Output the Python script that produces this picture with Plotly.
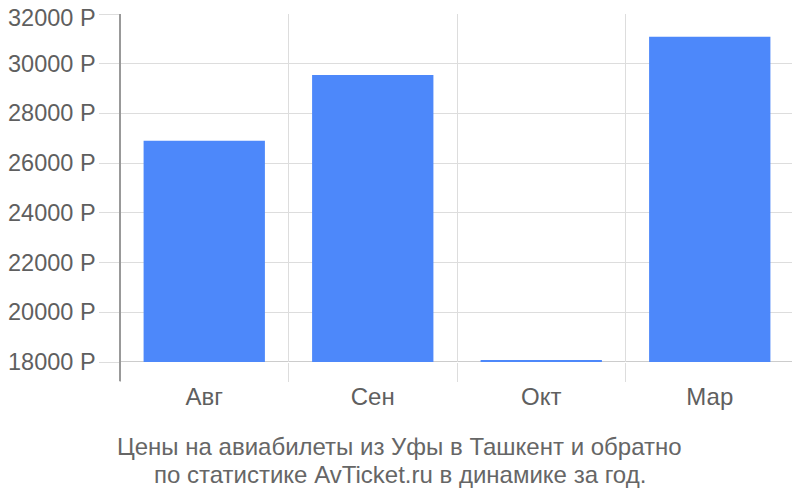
import plotly.graph_objects as go

categories = ["Авг", "Сен", "Окт", "Мар"]
prices = [26900, 29550, 18070, 31080]
tick_values = [18000, 20000, 22000, 24000, 26000, 28000, 30000, 32000]
tick_labels = [f"{v} Р" for v in tick_values]
caption_lines = ["Цены на авиабилеты из Уфы в Ташкент и обратно",
                 "по статистике AvTicket.ru в динамике за год."]

FONT = "Liberation Sans"
TEXT = "#5f5f5f"

fig = go.Figure()
fig.add_trace(go.Bar(
    x=categories, y=[p - 18000 for p in prices], base=18000,
    marker=dict(color="#4d88fa", line=dict(width=0)),
    hoverinfo="skip",
))

fig.update_layout(
    width=800, height=500,
    margin=dict(l=112, r=14, t=6, b=146),
    paper_bgcolor="white", plot_bgcolor="white",
    bargap=0.28,
    showlegend=False,
    font=dict(family=FONT, color=TEXT, size=24),
)
fig.update_xaxes(
    type="category",
    tickson="boundaries",
    automargin=False,
    showgrid=True, gridcolor="#dddddd", gridwidth=1,
    ticks="outside", ticklen=19, tickcolor="#dddddd", tickwidth=1,
    tickfont=dict(family=FONT, size=24, color=TEXT),
    ticklabelstandoff=18,
    showline=False, zeroline=False,
    range=[-0.5, 3.5],
)
fig.update_yaxes(
    range=[18000, 32000],
    automargin=False,
    tickvals=tick_values,
    showticklabels=False,
    showgrid=True, gridcolor="#dddddd", gridwidth=1,
    ticks="outside", ticklen=20, tickcolor="#dddddd", tickwidth=1,
    showline=False, zeroline=False,
)
top_value = max(tick_values)
for v, lab in zip(tick_values, tick_labels):
    fig.add_annotation(
        text=lab, xref="paper", yref="y", x=0, y=v, xshift=-22,
        yshift=-4 if v == top_value else 0,
        xanchor="right", yanchor="middle", showarrow=False,
        font=dict(family=FONT, size=23.5, color=TEXT),
    )
# baseline and left axis line
fig.add_shape(type="line", xref="paper", yref="y", x0=0, x1=1, y0=18000, y1=18000,
              line=dict(color="#cccccc", width=2), layer="below")
fig.add_shape(type="line", xref="paper", yref="paper", x0=0, x1=0, y0=-0.055, y1=1,
              line=dict(color="#999999", width=2))
for i, line in enumerate(caption_lines):
    fig.add_annotation(
        text=line, xref="paper", yref="paper", x=0.4154, y=-0.2414 - i * 0.0805,
        xanchor="center", yanchor="middle", showarrow=False, align="center",
        font=dict(family=FONT, size=24, color="#666666"),
    )

fig.write_html("out.html")
